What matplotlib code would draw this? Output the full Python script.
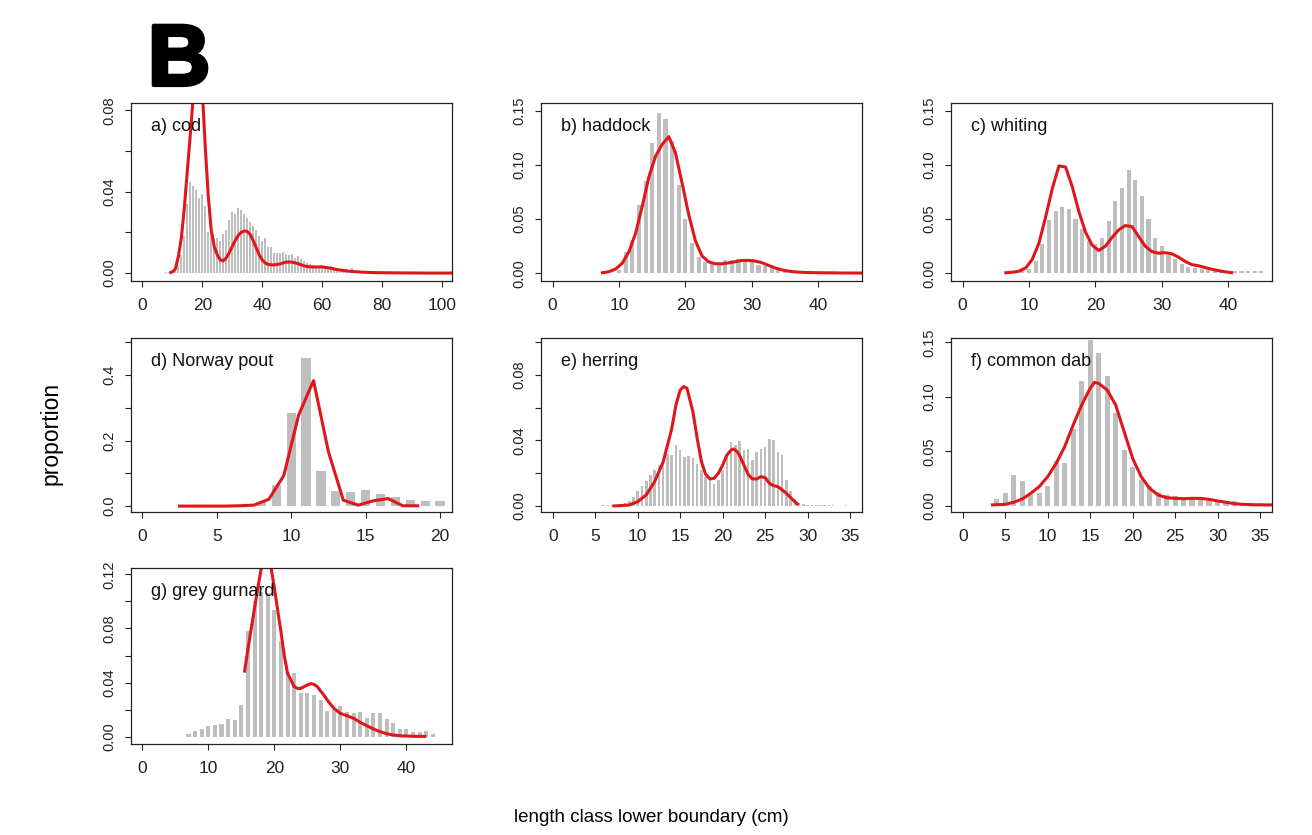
import matplotlib.pyplot as plt
import matplotlib.patheffects as pe

plt.rcParams['font.family'] = ['Liberation Sans', 'DejaVu Sans']

# length-frequency proportions (bars) and fitted curves (red lines)
cod_start = 8
cod_prop = [0.0003, 0.0006, 0.0012, 0.002, 0.004, 0.009, 0.018, 0.034, 0.045, 0.043,
            0.041, 0.037, 0.039, 0.033, 0.020, 0.020, 0.017, 0.017, 0.016, 0.019,
            0.021, 0.026, 0.030, 0.029, 0.032, 0.031, 0.029, 0.027, 0.025, 0.023,
            0.021, 0.018, 0.016, 0.017, 0.013, 0.013, 0.010, 0.010, 0.010, 0.0105,
            0.0095, 0.009, 0.0095, 0.0075, 0.0085, 0.007, 0.006, 0.005, 0.0045, 0.004,
            0.0035, 0.0035, 0.004, 0.003, 0.003, 0.0035, 0.003, 0.0025, 0.002, 0.002,
            0.0018, 0.0015, 0.0025, 0.0012, 0.0012, 0.001, 0.001, 0.001, 0.0009, 0.0008,
            0.0008, 0.0007, 0.0007, 0.0006, 0.0006, 0.0005, 0.0005, 0.0005, 0.0004, 0.0004,
            0.0005, 0.0003, 0.0003, 0.0003, 0.0002, 0.0002, 0.0002, 0.0002, 0.0001, 0.0001,
            0.0001, 0.0001]
cod_fit_len = [9.5, 10, 11, 12, 13, 14, 15, 16, 17, 18, 19, 20, 21, 22, 23, 24, 25, 26,
               27, 28, 29, 30, 31, 32, 33, 34, 35, 36, 37, 38, 39, 40, 41, 42, 44, 46,
               48, 50, 52, 54, 56, 58, 60, 62, 64, 66, 68, 70, 74, 78, 85, 95, 106]
cod_fit = [0.0003, 0.0006, 0.002, 0.008, 0.017, 0.032, 0.050, 0.068, 0.087, 0.103,
           0.105, 0.090, 0.062, 0.038, 0.021, 0.013, 0.009, 0.0065, 0.006, 0.0075,
           0.010, 0.013, 0.016, 0.0185, 0.020, 0.0207, 0.0205, 0.019, 0.016, 0.0125,
           0.009, 0.0065, 0.005, 0.0042, 0.004, 0.0045, 0.0054, 0.0054, 0.0046, 0.0035,
           0.003, 0.003, 0.003, 0.0026, 0.002, 0.0015, 0.0011, 0.0008, 0.0004, 0.0002,
           0.0001, 0.0, 0.0]

haddock_start = 10
haddock_prop = [0.003, 0.020, 0.031, 0.063, 0.085, 0.120, 0.148, 0.142, 0.122, 0.081,
                0.050, 0.028, 0.015, 0.010, 0.009, 0.008, 0.012, 0.012, 0.013, 0.012,
                0.010, 0.008, 0.007, 0.005, 0.004, 0.002, 0.0015, 0.001, 0.001, 0.001,
                0.0008, 0.0008, 0.0006, 0.0006, 0.0005, 0.0005, 0.0005]
haddock_fit_len = [7.5, 8.5, 9.5, 10.5, 11.5, 12.5, 13.5, 14.5, 15.5, 16.5, 17.5, 18.5,
                   19.5, 20.5, 21.5, 22.5, 23.5, 24.5, 25.5, 26.5, 27.5, 28.5, 29.5,
                   30.5, 31.5, 32.5, 33.5, 34.5, 35.5, 36.5, 37.5, 38.5, 40.5, 43.5, 47.5]
haddock_fit = [0.0005, 0.0015, 0.004, 0.0095, 0.020, 0.037, 0.062, 0.089, 0.108, 0.119,
               0.126, 0.111, 0.083, 0.054, 0.030, 0.016, 0.0105, 0.0088, 0.0088, 0.0096,
               0.0107, 0.0118, 0.0119, 0.0113, 0.0098, 0.0073, 0.005, 0.0032, 0.002,
               0.0013, 0.0009, 0.0007, 0.0005, 0.0003, 0.0002]

whiting_start = 8
whiting_prop = [0.001, 0.002, 0.004, 0.011, 0.027, 0.049, 0.057, 0.061, 0.059, 0.050,
                0.041, 0.030, 0.027, 0.033, 0.048, 0.067, 0.079, 0.095, 0.086, 0.071,
                0.050, 0.033, 0.025, 0.017, 0.013, 0.009, 0.006, 0.005, 0.004, 0.003,
                0.003, 0.002, 0.002, 0.002, 0.002, 0.002, 0.002, 0.002]
whiting_fit_len = [6.5, 7.5, 8.5, 9.5, 10.5, 11.5, 12.5, 13.5, 14.5, 15.5, 16.5, 17.5,
                   18.5, 19.5, 20.5, 21.5, 22.5, 23.5, 24.5, 25.5, 26.5, 27.5, 28.5,
                   29.5, 30.5, 31.5, 32.5, 33.5, 34.5, 35.5, 36.5, 37.5, 38.5, 39.5, 40.5]
whiting_fit = [0.0005, 0.001, 0.002, 0.005, 0.013, 0.028, 0.052, 0.078, 0.099, 0.098,
               0.080, 0.057, 0.038, 0.026, 0.021, 0.025, 0.033, 0.040, 0.044, 0.043,
               0.034, 0.025, 0.020, 0.0185, 0.019, 0.018, 0.015, 0.011, 0.008, 0.007,
               0.0053, 0.0038, 0.0025, 0.0014, 0.0006]

pout_start = 8
pout_prop = [0.013, 0.064, 0.285, 0.453, 0.107, 0.047, 0.042, 0.050, 0.037, 0.028,
             0.020, 0.016, 0.016]
pout_fit_len = [2.5, 3.5, 4.5, 5.5, 6.5, 7.5, 8.5, 9.5, 10.5, 11.5, 12.5, 13.5, 14.5,
                15.5, 16.5, 17.5, 18.5]
pout_fit = [0.0, 0.0, 0.0, 0.0, 0.001, 0.003, 0.021, 0.093, 0.278, 0.383, 0.166, 0.018,
            0.003, 0.016, 0.023, 0.001, 0.001]

herring_len = [6.0, 6.5, 7.0, 7.5, 8.0, 8.5, 9.0, 9.5, 10.0, 10.5, 11.0, 11.5, 12.0,
               12.5, 13.0, 13.5, 14.0, 14.5, 15.0, 15.5, 16.0, 16.5, 17.0, 17.5, 18.0,
               18.5, 19.0, 19.5, 20.0, 20.5, 21.0, 21.5, 22.0, 22.5, 23.0, 23.5, 24.0,
               24.5, 25.0, 25.5, 26.0, 26.5, 27.0, 27.5, 28.0, 28.5, 29.0, 29.5, 30.0,
               30.5, 31.0, 31.5, 32.0, 32.5, 33.0, 34.5]
herring_prop = [0.0005, 0.0005, 0.0005, 0.0005, 0.001, 0.0015, 0.003, 0.0055, 0.009,
                0.012, 0.015, 0.019, 0.022, 0.025, 0.028, 0.032, 0.031, 0.0375, 0.034,
                0.030, 0.0305, 0.029, 0.0255, 0.022, 0.0175, 0.016, 0.0135, 0.016, 0.022,
                0.030, 0.039, 0.037, 0.0395, 0.034, 0.035, 0.028, 0.033, 0.0345, 0.036,
                0.041, 0.0405, 0.033, 0.031, 0.016, 0.009, 0.004, 0.002, 0.0012, 0.0008,
                0.0005, 0.0005, 0.0005, 0.0005, 0.0005, 0.0005, 0.0005]
herring_fit_len = [7.2, 8, 9, 10, 11, 12, 13, 14, 14.5, 15, 15.4, 15.8, 16.5, 17, 17.5,
                   18, 18.5, 19, 19.5, 20, 20.5, 21, 21.3, 21.7, 22, 22.5, 23, 23.5, 24,
                   24.5, 25, 25.5, 26, 26.5, 27, 27.5, 28, 28.5, 28.8]
herring_fit = [0.0, 0.0002, 0.0006, 0.0026, 0.0067, 0.0149, 0.027, 0.047, 0.0617, 0.0708,
               0.0729, 0.0719, 0.0576, 0.0413, 0.027, 0.0193, 0.0165, 0.0169, 0.020,
               0.025, 0.0311, 0.0342, 0.0348, 0.0332, 0.0307, 0.025, 0.0193, 0.0165,
               0.0165, 0.0179, 0.0173, 0.0138, 0.0124, 0.0118, 0.0098, 0.0077, 0.0051,
               0.0026, 0.0012]

dab_start = 4
dab_prop = [0.0064, 0.0116, 0.0284, 0.0232, 0.010, 0.0116, 0.0183, 0.0412, 0.0397,
            0.0703, 0.1149, 0.152, 0.140, 0.119, 0.0855, 0.051, 0.0354, 0.0235, 0.0183,
            0.0131, 0.010, 0.0095, 0.007, 0.0076, 0.007, 0.0058, 0.0046, 0.0046, 0.0049,
            0.003, 0.003, 0.003]
dab_fit_len = [3.5, 5, 6, 7, 8, 9, 10, 11, 12, 13, 14, 15, 15.5, 16, 17, 18, 19, 20, 21,
               22, 23, 24, 25, 26, 27, 28, 29, 30, 31, 32, 33, 34, 35, 37]
dab_fit = [0.001, 0.0015, 0.0034, 0.0064, 0.0116, 0.0177, 0.0269, 0.0391, 0.0544,
           0.0742, 0.0926, 0.1079, 0.1134, 0.1124, 0.1063, 0.0926, 0.0681, 0.0437,
           0.0269, 0.0162, 0.0101, 0.0076, 0.007, 0.0067, 0.007, 0.007, 0.0061, 0.0046,
           0.0034, 0.0021, 0.0015, 0.0012, 0.001, 0.001]

gurnard_start = 7
gurnard_prop = [0.002, 0.0044, 0.0057, 0.0076, 0.0084, 0.0091, 0.0128, 0.0126, 0.0234,
                0.078, 0.100, 0.107, 0.106, 0.094, 0.071, 0.048, 0.047, 0.032, 0.032,
                0.031, 0.027, 0.019, 0.0197, 0.0227, 0.0185, 0.0172, 0.018, 0.014,
                0.0177, 0.0177, 0.013, 0.0099, 0.0057, 0.0057, 0.0037, 0.0032, 0.0042,
                0.0017]
gurnard_fit_len = [15.5, 16, 16.5, 17, 17.5, 18, 18.5, 19, 19.5, 20, 20.5, 21, 21.5, 22,
                   22.5, 23, 23.5, 24, 24.5, 25, 25.5, 26, 26.5, 27, 27.5, 28, 29, 30,
                   31, 32, 33, 34, 35, 36, 37, 38, 39, 40, 41, 42, 42.8]
gurnard_fit = [0.0485, 0.065, 0.080, 0.095, 0.110, 0.124, 0.133, 0.134, 0.125, 0.110,
               0.0936, 0.0776, 0.060, 0.0468, 0.042, 0.037, 0.0357, 0.0357, 0.037,
               0.0382, 0.0392, 0.0387, 0.037, 0.0338, 0.0308, 0.0271, 0.021, 0.0172,
               0.0155, 0.0136, 0.0106, 0.0081, 0.0057, 0.0037, 0.0022, 0.0012, 0.0007,
               0.0005, 0.0003, 0.0002, 0.0002]

titles = ["a) cod", "b) haddock", "c) whiting", "d) Norway pout", "e) herring",
          "f) common dab", "g) grey gurnard"]

W, H = 1312, 835
GREY = "#BEBEBE"
RED = "#E0161A"


def pos(l, t, r, b):
    return [l / W, 1 - b / H, (r - l) / W, (b - t) / H]


panels = [
    # box px, xlim, ylim, xticks, yticks, ylabels, bar x, bar y, bin, fit x, fit y
    dict(box=(131, 103, 452, 281), xlim=(-3.8, 103.4), ylim=(-0.0039, 0.0836),
         xt=[0, 20, 40, 60, 80, 100], yt=[0, 0.02, 0.04, 0.06, 0.08],
         yl=["0.00", "", "0.04", "", "0.08"],
         bx=[cod_start + i for i in range(len(cod_prop))], by=cod_prop, bw=1.0,
         fx=cod_fit_len, fy=cod_fit),
    dict(box=(541, 103, 862, 281), xlim=(-1.76, 46.6), ylim=(-0.0071, 0.157),
         xt=[0, 10, 20, 30, 40], yt=[0, 0.05, 0.10, 0.15],
         yl=["0.00", "0.05", "0.10", "0.15"],
         bx=[haddock_start + i for i in range(len(haddock_prop))], by=haddock_prop, bw=1.0,
         fx=haddock_fit_len, fy=haddock_fit),
    dict(box=(951, 103, 1272, 281), xlim=(-1.76, 46.6), ylim=(-0.0071, 0.157),
         xt=[0, 10, 20, 30, 40], yt=[0, 0.05, 0.10, 0.15],
         yl=["0.00", "0.05", "0.10", "0.15"],
         bx=[whiting_start + i for i in range(len(whiting_prop))], by=whiting_prop, bw=1.0,
         fx=whiting_fit_len, fy=whiting_fit),
    dict(box=(131, 338, 452, 512), xlim=(-0.76, 20.8), ylim=(-0.018, 0.513),
         xt=[0, 5, 10, 15, 20], yt=[0, 0.1, 0.2, 0.3, 0.4, 0.5],
         yl=["0.0", "", "0.2", "", "0.4", ""],
         bx=[pout_start + i for i in range(len(pout_prop))], by=pout_prop, bw=1.0,
         fx=pout_fit_len, fy=pout_fit),
    dict(box=(541, 338, 862, 512), xlim=(-1.38, 36.4), ylim=(-0.0037, 0.1026),
         xt=[0, 5, 10, 15, 20, 25, 30, 35], yt=[0, 0.02, 0.04, 0.06, 0.08, 0.10],
         yl=["0.00", "", "0.04", "", "0.08", ""],
         bx=herring_len, by=herring_prop, bw=0.5,
         fx=herring_fit_len, fy=herring_fit),
    dict(box=(951, 338, 1272, 512), xlim=(-1.38, 36.4), ylim=(-0.0055, 0.154),
         xt=[0, 5, 10, 15, 20, 25, 30, 35], yt=[0, 0.05, 0.10, 0.15],
         yl=["0.00", "0.05", "0.10", "0.15"],
         bx=[dab_start + i for i in range(len(dab_prop))], by=dab_prop, bw=1.0,
         fx=dab_fit_len, fy=dab_fit),
    dict(box=(131, 568, 452, 744), xlim=(-1.71, 46.9), ylim=(-0.0054, 0.1247),
         xt=[0, 10, 20, 30, 40], yt=[0, 0.02, 0.04, 0.06, 0.08, 0.10, 0.12],
         yl=["0.00", "", "0.04", "", "0.08", "", "0.12"],
         bx=[gurnard_start + i for i in range(len(gurnard_prop))], by=gurnard_prop, bw=1.0,
         fx=gurnard_fit_len, fy=gurnard_fit),
]

fig = plt.figure(figsize=(W / 100, H / 100), dpi=100)

for p, title in zip(panels, titles):
    ax = fig.add_axes(pos(*p["box"]))
    ax.bar(p["bx"], p["by"], width=0.62 * p["bw"], color=GREY, linewidth=0, zorder=1)
    ax.plot(p["fx"], p["fy"], color=RED, lw=2.2, zorder=2, solid_joinstyle="round")
    ax.set_xlim(*p["xlim"])
    ax.set_ylim(*p["ylim"])
    ax.set_xticks(p["xt"])
    ax.set_xticklabels([str(v) for v in p["xt"]], fontsize=12.5)
    ax.set_yticks(p["yt"])
    ax.set_yticklabels(p["yl"], rotation=90, va="center", fontsize=10.5)
    ax.tick_params(axis="x", direction="out", length=4.5, width=0.8, pad=8, colors="#222222")
    ax.tick_params(axis="y", direction="out", length=4.5, width=0.8, pad=6, colors="#222222")
    for s in ax.spines.values():
        s.set_linewidth(0.9)
        s.set_color("#222222")
    ax.text(0.062, 0.915, title, transform=ax.transAxes, ha="left", va="top",
            fontsize=13, color="#111111", zorder=5)

fig.text(51 / W, 1 - 433 / H, "proportion", rotation=90, ha="center", va="center",
         fontsize=16.5)
fig.text(651 / W, 1 - 817 / H, "length class lower boundary (cm)", ha="center",
         va="center", fontsize=13.5)
fig.text(148 / W, 1 - 85 / H, "B", ha="left", va="baseline", fontsize=62,
         fontweight="bold",
         path_effects=[pe.withStroke(linewidth=3, foreground="black")])

fig.savefig("out.png", dpi=100)
